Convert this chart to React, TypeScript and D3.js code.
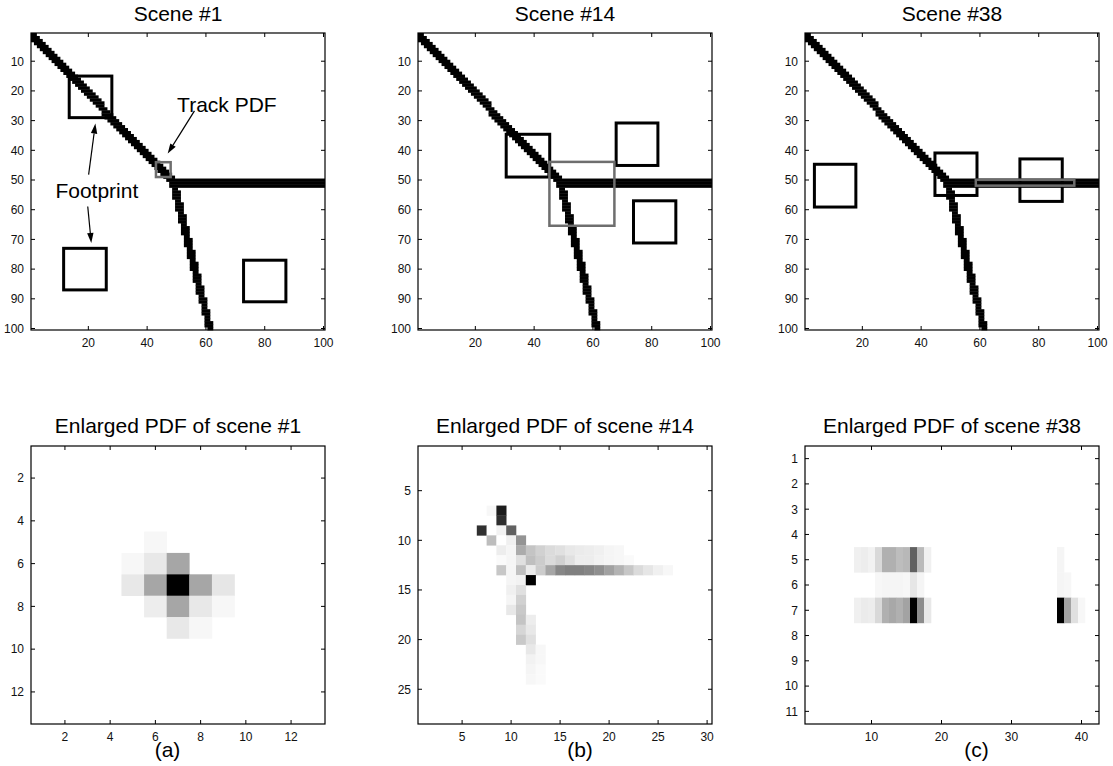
import React, { useMemo } from 'react';
import * as d3 from 'd3';

const W = 1113;
const H = 766;
const FONT = '"Liberation Sans", Arial, Helvetica, sans-serif';

// ---------- text ----------
const sceneTitles = ['Scene #1', 'Scene #14', 'Scene #38'];
const pdfTitles = ['Enlarged PDF of scene #1', 'Enlarged PDF of scene #14', 'Enlarged PDF of scene #38'];
const subLabels = ['(a)', '(b)', '(c)'];

// ---------- scene axes ----------
const sceneTicksX = [20, 40, 60, 80, 100];
const sceneTicksY = [10, 20, 30, 40, 50, 60, 70, 80, 90, 100];

// ---------- track (road network), data units ----------
const trackSegments = [
  { from: [1, 1], to: [49, 51], halfWidth: 1.4 },
  { from: [49, 51], to: [100, 51], halfWidth: 1.05 },
  { from: [49, 51], to: [61.3, 100], halfWidth: 1.25 },
];

// ---------- footprints [x0, y0, x1, y1] ----------
const footprints1 = [[13.5, 15, 28, 29], [11.6, 73, 26.1, 87], [72.8, 77, 87.2, 91]];
const pdfBox1 = [43, 44, 48, 49];
const footprints14 = [[30.5, 34.6, 45.3, 49], [67.9, 30.8, 82.1, 45.1], [73.8, 57, 88.2, 71.2]];
const pdfBox14 = [45.2, 43.9, 67.3, 65.4];
const footprints38 = [[3.7, 44.7, 17.8, 59.1], [44.7, 40.9, 59, 55.2], [73.6, 42.9, 88, 57.2]];
const pdfBox38 = [58.6, 49.9, 92.1, 51.9];

// ---------- annotations on scene #1 (data units) ----------
const annotTexts = [
  { text: 'Track PDF', x: 50.2, y: 27.2 },
  { text: 'Footprint', x: 8.8, y: 56 },
];
const annotArrows = [
  { from: [56.1, 26.7], to: [47, 41.1] },
  { from: [20.1, 48.2], to: [22.4, 31] },
  { from: [19.8, 58.9], to: [21, 71.2] },
];

// ---------- PDFs: row runs {r, c (first column), v (values)} ----------
const pdf1 = [
  { r: 5, c: 6, v: [0.03] },
  { r: 6, c: 5, v: [0.03, 0.09, 0.35] },
  { r: 7, c: 5, v: [0.09, 0.35, 1.0, 0.35, 0.1] },
  { r: 8, c: 6, v: [0.07, 0.35, 0.09, 0.03] },
  { r: 9, c: 7, v: [0.09, 0.03] },
];
const pdf14 = [
  { r: 7, c: 8, v: [0.03, 0.89] },
  { r: 8, c: 9, v: [0.82] },
  { r: 9, c: 7, v: [0.81, 0, 0.05, 0.62] },
  { r: 10, c: 8, v: [0.26, 0, 0.06, 0.42] },
  { r: 11, c: 9, v: [0.07, 0.04, 0.33, 0.23, 0.18, 0.14, 0.12, 0.09, 0.08, 0.07, 0.06, 0.04, 0.03] },
  { r: 12, c: 9, v: [0.02, 0.04, 0.12, 0.25, 0.2, 0.14, 0.18, 0.12, 0.07, 0.07, 0.05, 0.04, 0.03, 0.02] },
  { r: 13, c: 9, v: [0.22, 0.04, 0.25, 0.08, 0.2, 0.35, 0.47, 0.5, 0.5, 0.48, 0.44, 0.37, 0.3, 0.22, 0.14, 0.1, 0.06, 0.03] },
  { r: 14, c: 10, v: [0.04, 0.05, 1.0] },
  { r: 15, c: 10, v: [0.06, 0.12] },
  { r: 16, c: 10, v: [0.04, 0.18] },
  { r: 17, c: 10, v: [0.09, 0.21] },
  { r: 18, c: 11, v: [0.23, 0.07] },
  { r: 19, c: 11, v: [0.16, 0.09] },
  { r: 20, c: 11, v: [0.21, 0.12] },
  { r: 21, c: 12, v: [0.09, 0.03] },
  { r: 22, c: 12, v: [0.05, 0.03] },
  { r: 23, c: 12, v: [0.04, 0.02] },
  { r: 24, c: 12, v: [0.03, 0.02] },
];
const pdf38 = [
  { r: 5, c: 8, v: [0.06, 0.07, 0.05, 0.15, 0.31, 0.31, 0.26, 0.28, 0.62, 0.27, 0.06] },
  { r: 6, c: 11, v: [0.03, 0.04, 0.04, 0.04, 0.03, 0.1, 0.04] },
  { r: 7, c: 8, v: [0.06, 0.08, 0.07, 0.15, 0.31, 0.34, 0.31, 0.36, 1.0, 0.45, 0.09] },
  { r: 5, c: 37, v: [0.04] },
  { r: 6, c: 37, v: [0.04, 0.03] },
  { r: 7, c: 37, v: [1.0, 0.36, 0.12, 0.03] },
];

const pdfSpecs = [
  { rows: 13, cols: 13, xTicks: [2, 4, 6, 8, 10, 12], yTicks: [2, 4, 6, 8, 10, 12], data: pdf1 },
  { rows: 28, cols: 30, xTicks: [5, 10, 15, 20, 25, 30], yTicks: [5, 10, 15, 20, 25], data: pdf14 },
  { rows: 11, cols: 42, xTicks: [10, 20, 30, 40], yTicks: [1, 2, 3, 4, 5, 6, 7, 8, 9, 10, 11], data: pdf38 },
];
const sceneFootprints = [footprints1, footprints14, footprints38];
const scenePdfBoxes = [pdfBox1, pdfBox14, pdfBox38];

// ---------- layout ----------
const COL_X = [31, 418, 805];
const PANEL_W = 294;
const TOP_Y = 33;
const TOP_H = 297;
const BOT_Y = 446;
const BOT_H = 278;
const SUB_X = [167.5, 580, 976.5];

function segDist(px: number, py: number, a: number[], b: number[]) {
  const dx = b[0] - a[0], dy = b[1] - a[1];
  const L2 = dx * dx + dy * dy;
  let t = ((px - a[0]) * dx + (py - a[1]) * dy) / L2;
  t = Math.max(0, Math.min(1, t));
  const qx = a[0] + t * dx, qy = a[1] + t * dy;
  return Math.hypot(px - qx, py - qy);
}

function rasterTrack() {
  const runs: { r: number; c0: number; c1: number }[] = [];
  for (let r = 1; r <= 100; r++) {
    let start = -1;
    for (let c = 1; c <= 101; c++) {
      const on = c <= 100 && trackSegments.some((s) => segDist(c, r, s.from, s.to) <= s.halfWidth);
      if (on && start < 0) start = c;
      if (!on && start >= 0) {
        runs.push({ r, c0: start, c1: c - 1 });
        start = -1;
      }
    }
  }
  return runs;
}

function Axes({ x0, y0, w, h, xs, ys, xTicks, yTicks }: any) {
  const tl = 4;
  return (
    <g>
      {xTicks.map((t: number) => (
        <g key={'x' + t}>
          <line x1={xs(t)} x2={xs(t)} y1={y0 + h} y2={y0 + h - tl} stroke="#000" strokeWidth={1} />
          <line x1={xs(t)} x2={xs(t)} y1={y0} y2={y0 + tl} stroke="#000" strokeWidth={1} />
          <text x={xs(t)} y={y0 + h + 17} textAnchor="middle" fontSize={12} fill="#111" fontFamily={FONT}>
            {t}
          </text>
        </g>
      ))}
      {yTicks.map((t: number) => (
        <g key={'y' + t}>
          <line x1={x0} x2={x0 + tl} y1={ys(t)} y2={ys(t)} stroke="#000" strokeWidth={1} />
          <line x1={x0 + w} x2={x0 + w - tl} y1={ys(t)} y2={ys(t)} stroke="#000" strokeWidth={1} />
          <text x={x0 - 7} y={ys(t)} dy="0.36em" textAnchor="end" fontSize={12} fill="#111" fontFamily={FONT}>
            {t}
          </text>
        </g>
      ))}
      <rect x={x0} y={y0} width={w} height={h} fill="none" stroke="#000" strokeWidth={1.2} />
    </g>
  );
}

function Arrow({ from, to, xs, ys }: any) {
  const x1 = xs(from[0]), y1 = ys(from[1]), x2 = xs(to[0]), y2 = ys(to[1]);
  const ang = Math.atan2(y2 - y1, x2 - x1);
  const len = 10, hw = 3.2;
  const bx = x2 - len * Math.cos(ang), by = y2 - len * Math.sin(ang);
  const px = -Math.sin(ang) * hw, py = Math.cos(ang) * hw;
  return (
    <g>
      <line x1={x1} y1={y1} x2={bx} y2={by} stroke="#000" strokeWidth={1.2} />
      <path d={`M${x2},${y2}L${bx + px},${by + py}L${bx - px},${by - py}Z`} fill="#000" />
    </g>
  );
}

function ScenePanel({ i, runs }: { i: number; runs: any[] }) {
  const x0 = COL_X[i];
  const xs = d3.scaleLinear().domain([0.5, 100.5]).range([x0, x0 + PANEL_W]);
  const ys = d3.scaleLinear().domain([0.5, 100.5]).range([TOP_Y, TOP_Y + TOP_H]);
  const pb = scenePdfBoxes[i];
  return (
    <g>
      <rect x={x0} y={TOP_Y} width={PANEL_W} height={TOP_H} fill="#fff" />
      {runs.map((d, k) => (
        <rect
          key={k}
          x={xs(d.c0 - 0.5)}
          y={ys(d.r - 0.5)}
          width={xs(d.c1 + 0.5) - xs(d.c0 - 0.5)}
          height={ys(d.r + 0.5) - ys(d.r - 0.5) + 0.4}
          fill="#000"
        />
      ))}
      {sceneFootprints[i].map((b, k) => (
        <rect
          key={'f' + k}
          x={xs(b[0])}
          y={ys(b[1])}
          width={xs(b[2]) - xs(b[0])}
          height={ys(b[3]) - ys(b[1])}
          fill="none"
          stroke="#000"
          strokeWidth={3}
        />
      ))}
      <rect
        x={xs(pb[0])}
        y={ys(pb[1])}
        width={xs(pb[2]) - xs(pb[0])}
        height={ys(pb[3]) - ys(pb[1])}
        fill="none"
        stroke="#6e6e6e"
        strokeWidth={2.5}
      />
      {i === 0 &&
        annotTexts.map((a) => (
          <text key={a.text} x={xs(a.x)} y={ys(a.y)} fontSize={21} fontFamily={FONT} fill="#000">
            {a.text}
          </text>
        ))}
      {i === 0 && annotArrows.map((a, k) => <Arrow key={'a' + k} from={a.from} to={a.to} xs={xs} ys={ys} />)}
      <text x={x0 + PANEL_W / 2} y={TOP_Y - 12} textAnchor="middle" fontSize={21} fontFamily={FONT} fill="#000">
        {sceneTitles[i]}
      </text>
      <Axes x0={x0} y0={TOP_Y} w={PANEL_W} h={TOP_H} xs={xs} ys={ys} xTicks={sceneTicksX} yTicks={sceneTicksY} />
    </g>
  );
}

function PdfPanel({ i }: { i: number }) {
  const spec = pdfSpecs[i];
  const x0 = COL_X[i];
  const xs = d3.scaleLinear().domain([0.5, spec.cols + 0.5]).range([x0, x0 + PANEL_W]);
  const ys = d3.scaleLinear().domain([0.5, spec.rows + 0.5]).range([BOT_Y, BOT_Y + BOT_H]);
  const cells: { r: number; c: number; v: number }[] = [];
  spec.data.forEach((run) => run.v.forEach((v, k) => cells.push({ r: run.r, c: run.c + k, v })));
  const col = (v: number) => {
    const g = Math.round(255 * (1 - v));
    return `rgb(${g},${g},${g})`;
  };
  return (
    <g>
      <rect x={x0} y={BOT_Y} width={PANEL_W} height={BOT_H} fill="#fff" />
      {cells.map((d, k) => (
        <rect
          key={k}
          x={xs(d.c - 0.5)}
          y={ys(d.r - 0.5)}
          width={xs(d.c + 0.5) - xs(d.c - 0.5) + 0.3}
          height={ys(d.r + 0.5) - ys(d.r - 0.5) + 0.3}
          fill={col(d.v)}
        />
      ))}
      <text x={x0 + PANEL_W / 2} y={BOT_Y - 13} textAnchor="middle" fontSize={21} fontFamily={FONT} fill="#000">
        {pdfTitles[i]}
      </text>
      <Axes x0={x0} y0={BOT_Y} w={PANEL_W} h={BOT_H} xs={xs} ys={ys} xTicks={spec.xTicks} yTicks={spec.yTicks} />
      <text x={SUB_X[i]} y={757} textAnchor="middle" fontSize={21} fontFamily={FONT} fill="#000">
        {subLabels[i]}
      </text>
    </g>
  );
}

export default function App() {
  const runs = useMemo(() => rasterTrack(), []);
  return (
    <svg
      width={W}
      height={H}
      viewBox={`0 0 ${W} ${H}`}
      style={{ position: 'absolute', left: 0, top: 0, background: '#fff' }}
    >
      <rect x={0} y={0} width={W} height={H} fill="#fff" />
      {[0, 1, 2].map((i) => (
        <ScenePanel key={'s' + i} i={i} runs={runs} />
      ))}
      {[0, 1, 2].map((i) => (
        <PdfPanel key={'p' + i} i={i} />
      ))}
    </svg>
  );
}
